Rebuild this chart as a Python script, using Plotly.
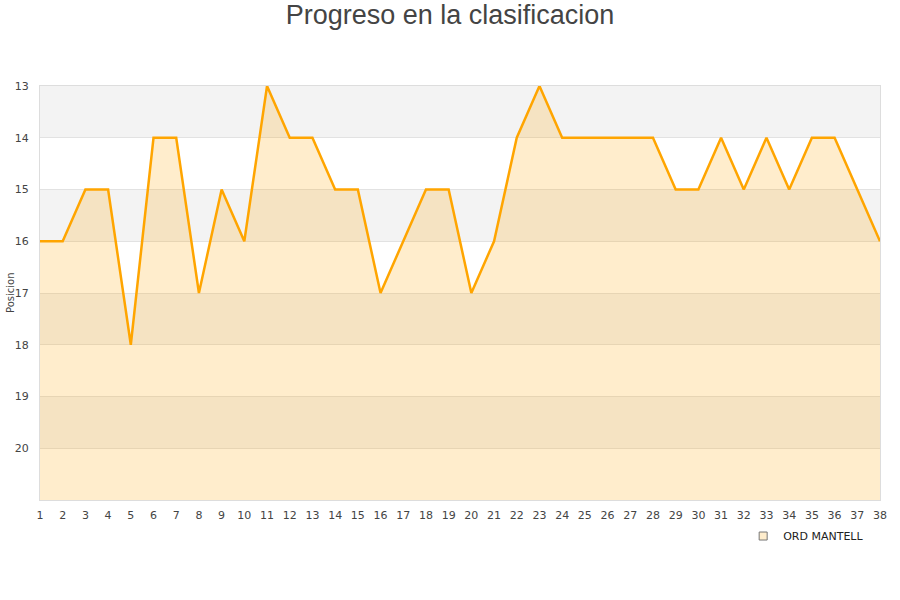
import plotly.graph_objects as go

jornadas = list(range(1, 39))
posiciones = [16, 16, 15, 15, 18, 14, 14, 17, 15, 16, 13, 14, 14, 15, 15, 17, 16, 15, 15, 17,
              16, 14, 13, 14, 14, 14, 14, 14, 15, 15, 14, 15, 14, 15, 14, 14, 15, 16]
y_ticks = [13, 14, 15, 16, 17, 18, 19, 20]
equipo = "ORD MANTELL"

fig = go.Figure()

# baseline for fill
fig.add_trace(go.Scatter(x=jornadas, y=[21] * len(jornadas), mode="lines",
                         line=dict(width=0), showlegend=False, hoverinfo="skip"))
fig.add_trace(go.Scatter(x=jornadas, y=posiciones, mode="lines", fill="tonexty",
                         fillcolor="rgba(255,165,0,0.2)",
                         line=dict(color="#ffa500", width=2.5), showlegend=False, name=equipo))
fig.add_trace(go.Scatter(x=[None], y=[None], mode="markers", name=equipo,
                         marker=dict(symbol="square", size=8, color="#ffedcc",
                                     line=dict(color="#777", width=1))))

shapes = []
for i, lo in enumerate(range(13, 21)):
    if i % 2 == 0:
        shapes.append(dict(type="rect", xref="paper", yref="y", x0=0, x1=1, y0=lo, y1=lo + 1,
                           fillcolor="#f3f3f3", line=dict(width=0), layer="below"))

fig.update_layout(
    width=900, height=600,
    margin=dict(l=40, r=20, t=86, b=100, autoexpand=False),
    paper_bgcolor="white", plot_bgcolor="white",
    title=dict(text="Progreso en la clasificacion", x=0.5, xanchor="center",
               yref="container", y=0.975, yanchor="middle",
               font=dict(family="Liberation Sans, Arial", size=27, color="#444")),
    font=dict(family="DejaVu Sans", size=11, color="#444"),
    shapes=shapes,
    showlegend=True,
    legend=dict(x=0.8371, xanchor="left", y=-0.087, yanchor="middle", orientation="v",
                font=dict(family="DejaVu Sans", size=11, color="#222"), bgcolor="rgba(0,0,0,0)"),
    annotations=[dict(text="Posicion", xref="paper", yref="paper", x=0, y=0.5, xshift=-30,
                      xanchor="center", yanchor="middle", textangle=-90, showarrow=False,
                      font=dict(family="DejaVu Sans", size=10, color="#444"))],
    xaxis=dict(range=[1, 38], tickmode="array", tickvals=jornadas, showgrid=False, automargin=False,
               showline=True, linecolor="#dddddd", mirror=True, zeroline=False, ticks="",
               ticklabelstandoff=5, tickfont=dict(size=11, color="#444")),
    yaxis=dict(range=[21, 13], tickmode="array", tickvals=y_ticks, showgrid=True, automargin=False,
               gridcolor="#e2e2e2", showline=True, linecolor="#dddddd", mirror=True, zeroline=False,
               ticks="", ticklabelstandoff=8,
               tickfont=dict(size=11, color="#444")),
)

fig.write_html("out.html", config={"displayModeBar": False},
               post_script="document.body.style.margin='0px';")
